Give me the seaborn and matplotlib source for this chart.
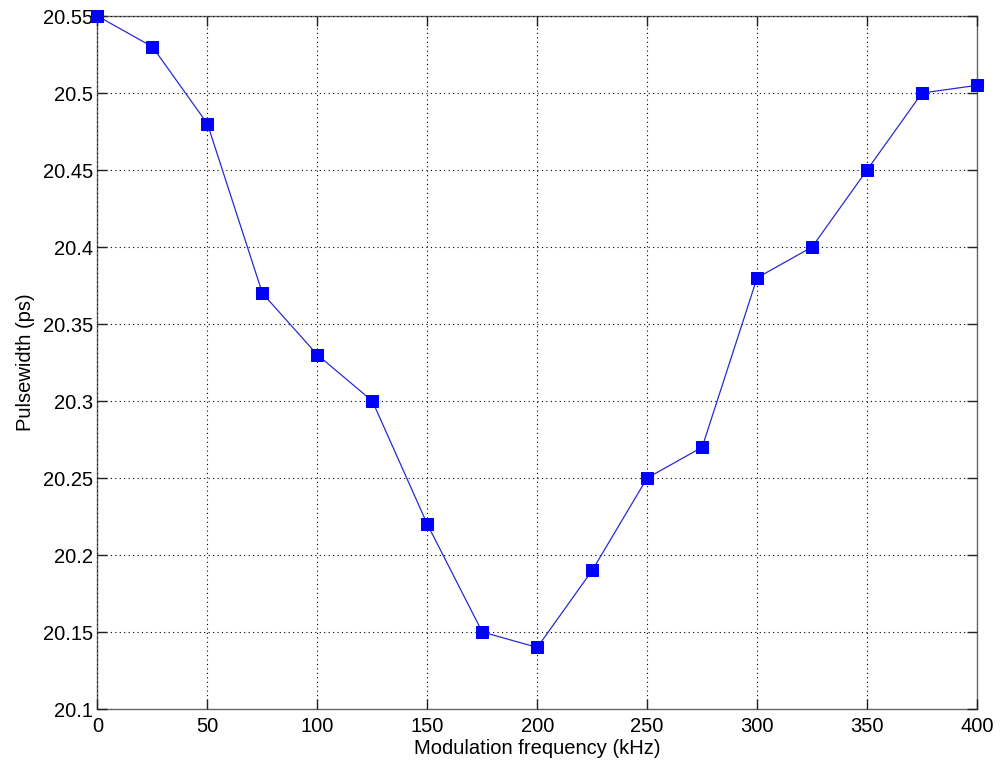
import matplotlib
matplotlib.use("Agg")
import matplotlib.pyplot as plt
import seaborn as sns
import pandas as pd

freq_khz = [0, 25, 50, 75, 100, 125, 150, 175, 200, 225, 250, 275, 300, 325, 350, 375, 400]
pulsewidth_ps = [20.55, 20.53, 20.48, 20.37, 20.33, 20.30, 20.22, 20.15, 20.14, 20.19,
                 20.25, 20.27, 20.38, 20.40, 20.45, 20.50, 20.505]
x_ticks = [0, 50, 100, 150, 200, 250, 300, 350, 400]
y_ticks = [20.1, 20.15, 20.2, 20.25, 20.3, 20.35, 20.4, 20.45, 20.5, 20.55]
y_tick_labels = ["20.1", "20.15", "20.2", "20.25", "20.3", "20.35", "20.4", "20.45", "20.5", "20.55"]

sns.set_style("white")
plt.rcParams["font.family"] = ["Liberation Sans", "DejaVu Sans"]
plt.rcParams["text.color"] = "black"
plt.rcParams["axes.labelcolor"] = "black"
plt.rcParams["xtick.color"] = "black"
plt.rcParams["ytick.color"] = "black"

df = pd.DataFrame({"freq": freq_khz, "pw": pulsewidth_ps})

fig = plt.figure(figsize=(10.01, 7.67), dpi=100)
ax = fig.add_axes([0.0974, 0.0756, 0.8786, 0.9035])

sns.lineplot(data=df, x="freq", y="pw", ax=ax, color="#2a2ad0", linewidth=0.9,
             marker="s", markersize=8, markerfacecolor="#0000ff",
             markeredgecolor="#0000ff", zorder=3, clip_on=False)

ax.set_xlim(0, 400)
ax.set_ylim(20.1, 20.55)
ax.set_xticks(x_ticks)
ax.set_xticklabels([str(t) for t in x_ticks])
ax.set_yticks(y_ticks)
ax.set_yticklabels(y_tick_labels)

ax.grid(True, linestyle=(0, (1, 3)), color="black", linewidth=0.8)
ax.set_axisbelow(False)
for spine in ax.spines.values():
    spine.set_color("#666666")
    spine.set_linewidth(1.0)
ax.tick_params(direction="in", length=7, width=1.0, color="#222222",
               labelsize=14.5, top=True, right=True, bottom=True, left=True)
ax.tick_params(axis="x", pad=6)
ax.tick_params(axis="y", pad=3)
ax.set_xlabel("Modulation frequency (kHz)", fontsize=14.5, labelpad=2)
ax.set_ylabel("Pulsewidth (ps)", fontsize=14.5, labelpad=6)

fig.savefig("out.png", dpi=100)
